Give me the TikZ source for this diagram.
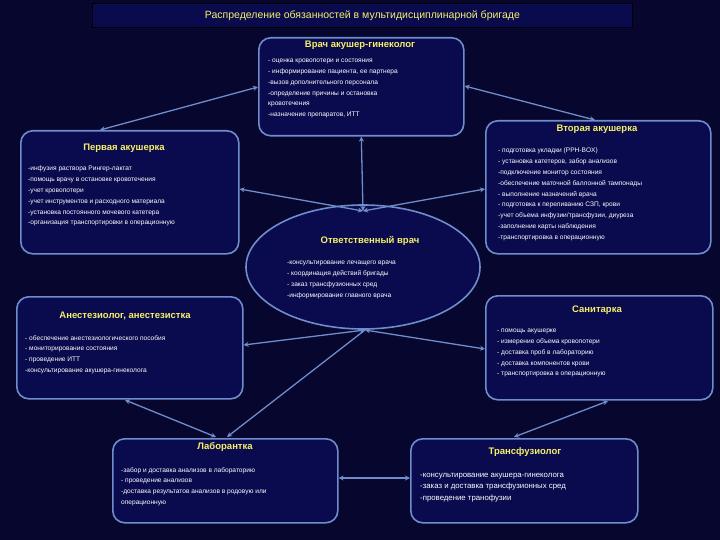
\documentclass[tikz,border=0pt]{standalone}
\usepackage{fontspec}
\setmainfont{Liberation Sans}
\usetikzlibrary{arrows.meta,shapes.geometric}
\definecolor{bg}{HTML}{06062E}
\definecolor{boxfill}{HTML}{0A0A4E}
\definecolor{edge}{HTML}{6F8CCB}
\definecolor{ttl}{HTML}{F5F06A}
\tikzset{
 box/.style={draw=edge,line width=1.6pt,fill=boxfill,rounded corners=12pt,anchor=north west,inner sep=0pt},
 head/.style={text=ttl,font=\fontsize{9.5}{10}\selectfont\bfseries,anchor=center},
 body/.style={text=white,font=\fontsize{6.6}{10.8}\selectfont,anchor=north west,align=left,inner sep=0pt},
 link/.style={draw=edge,line width=1.3pt,{Stealth[length=5pt,width=5pt]}-{Stealth[length=5pt,width=5pt]}},
 link1/.style={draw=edge,line width=1.3pt,-{Stealth[length=5pt,width=5pt]}}
}
\begin{document}
\begin{tikzpicture}[x=1pt,y=-1pt]
\fill[bg] (0,0) rectangle (720,540);
\useasboundingbox (0,0) rectangle (720,540);
% title
\node[fill=boxfill,draw=black,line width=0.8pt,minimum width=540pt,minimum height=24pt,anchor=north west,inner sep=0pt] (title) at (92,3) {};
\node[text=ttl,font=\fontsize{10.5}{12}\selectfont] (titletext) at (title.center) {Распределение обязанностей в мультидисциплинарной бригаде};
% boxes
\node[box,minimum width=205pt,minimum height=98pt] (vrach) at (258,37) {};
\node[box,minimum width=218pt,minimum height=123pt] (perv) at (20,130) {};
\node[box,minimum width=225pt,minimum height=133pt] (vtor) at (485,120) {};
\node[ellipse,draw=edge,line width=1.6pt,fill=boxfill,minimum width=234pt,minimum height=124pt,inner sep=0pt] (otv) at (363,267) {};
\node[box,minimum width=226pt,minimum height=102pt] (anest) at (16,296) {};
\node[box,minimum width=227pt,minimum height=104pt] (sanit) at (485,295) {};
\node[box,minimum width=225pt,minimum height=84pt] (lab) at (112,438) {};
\node[box,minimum width=227pt,minimum height=84pt] (trans) at (410,438) {};
% headings
\node[head] (h1) at (360,45) {Врач акушер-гинеколог};
\node[head] (h2) at (124,148) {Первая акушерка};
\node[head] (h3) at (597,129) {Вторая акушерка};
\node[head] (h4) at (370,241) {Ответственный врач};
\node[head] (h5) at (125,316) {Анестезиолог, анестезистка};
\node[head] (h6) at (597,310) {Санитарка};
\node[head] (h7) at (225,447) {Лаборантка};
\node[head] (h8) at (525,452) {Трансфузиолог};
% bodies
\node[body] (b1) at (268,59) {- оценка кровопотери и состояния\\- информирование пациента, ее партнера\\-вызов дополнительного персонала\\-определение причины и остановка\\кровотечения\\-назначение препаратов, ИТТ};
\node[body] (b2) at (28,166) {-инфузия раствора Рингер-лактат\\-помощь врачу в остановке кровотечения\\-учет кровопотери\\-учет инструментов и расходного материала\\-установка постоянного мочевого катетера\\-организация транспортировки в операционную};
\node[body] (b3) at (498,148) {- подготовка укладки (PPH-BOX)\\- установка катетеров, забор анализов\\-подключение монитор состояния\\-обеспечение маточной баллонной тампонады\\- выполнение назначений врача\\- подготовка к переливанию СЗП, крови\\-учет объема инфузии/трансфузии, диуреза\\-заполнение карты наблюдения\\-транспортировка в операционную};
\node[body] (b4) at (287,261) {-консультирование лечащего врача\\- координация действий бригады\\- заказ трансфузионных сред\\-информирование главного врача};
\node[body] (b5) at (25,335) {- обеспечение анестезиологического пособия\\- мониторирование состояния\\- проведение ИТТ\\-консультирование акушера-гинеколога};
\node[body] (b6) at (497,329) {- помощь акушерке\\- измерение объема кровопотери\\- доставка проб в лабораторию\\- доставка компонентов крови\\- транспортировка в операционную};
\node[body] (b7) at (121,467) {-забор и доставка анализов в лабораторию\\- проведение анализов\\-доставка результатов анализов в родовую или\\операционную};
\node[body,font=\fontsize{7.8}{11.5}\selectfont] (b8) at (420,473) {-консультирование акушера-гинеколога\\-заказ и доставка трансфузионных сред\\-проведение транофузии};
% connector points
\coordinate (otop) at (363,211);
\coordinate (obot) at (365,330);
\coordinate (pa) at (100,130);
\coordinate (va) at (595,120);
\coordinate (la) at (227,437);
\coordinate (an) at (125,400);
\coordinate (lb) at (216,437);
\coordinate (sb) at (608,401);
\coordinate (tb) at (514,437);
\draw[link] (pa) -- (vrach.west |- 0,87);
\draw[link] (va) -- (vrach.east |- 0,86);
\draw[link] (vrach.south) -- (otop);
\draw[link] (perv.east |- 0,189) -- (otop);
\draw[link] (vtor.west |- 0,189) -- (otop);
\draw[link] (obot) -- (anest.east |- 0,345);
\draw[link] (obot) -- (sanit.west |- 0,349);
\draw[link1] (obot) -- (la);
\draw[link] (an) -- (lb);
\draw[link] (sb) -- (tb);
\draw[link] (lab.east |- 0,478) -- (trans.west |- 0,478);
\end{tikzpicture}
\end{document}
